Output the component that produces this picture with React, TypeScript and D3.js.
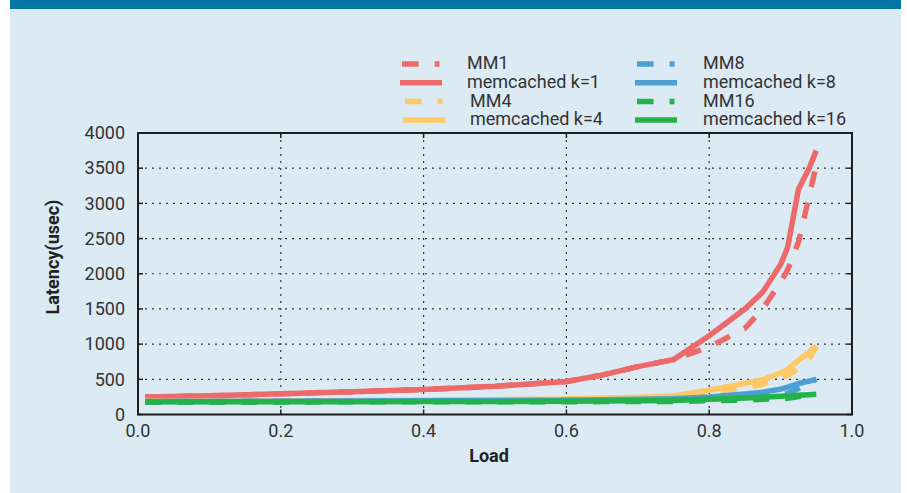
import React from "react";
import * as d3 from "d3";

// load values shared by all series
const loads = [0.01, 0.1, 0.2, 0.3, 0.4, 0.5, 0.6, 0.65, 0.7, 0.75, 0.8, 0.85, 0.875, 0.9, 0.91, 0.925, 0.94, 0.95];

const mm1 = [250, 265, 295, 325, 355, 400, 470, 560, 680, 780, 960, 1225, 1500, 1880, 2060, 2450, 3100, 3550];
const memK1 = [250, 265, 295, 325, 355, 400, 470, 560, 680, 780, 1120, 1500, 1740, 2130, 2380, 3200, 3500, 3750];
const mm4 = [185, 188, 190, 195, 198, 205, 212, 220, 235, 255, 310, 370, 430, 520, 560, 650, 790, 960];
const memK4 = [188, 190, 193, 198, 203, 210, 220, 230, 245, 265, 345, 445, 495, 590, 645, 765, 890, 975];
const mm8 = [182, 185, 187, 190, 192, 195, 200, 205, 210, 215, 235, 255, 270, 290, 300, 370, 450, 500];
const memK8 = [184, 186, 188, 191, 194, 198, 203, 210, 218, 225, 250, 290, 315, 360, 390, 440, 475, 500];
const mm16 = [178, 178, 179, 180, 180, 181, 182, 183, 184, 185, 195, 205, 215, 225, 230, 255, 275, 285];
const memK16 = [180, 180, 181, 182, 183, 185, 190, 193, 196, 200, 215, 235, 245, 260, 265, 275, 282, 287];

const seriesNames = ["MM1", "memcached k=1", "MM4", "memcached k=4", "MM8", "memcached k=8", "MM16", "memcached k=16"];
const seriesValues = [mm1, memK1, mm4, memK4, mm8, memK8, mm16, memK16];
const seriesColors = ["#ec6a6a", "#ec6a6a", "#fec866", "#fec866", "#4b9fd3", "#4b9fd3", "#23b24b", "#23b24b"];

const xTicks = [0, 0.2, 0.4, 0.6, 0.8, 1.0];
const yTicks = [0, 500, 1000, 1500, 2000, 2500, 3000, 3500, 4000];

const W = 907;
const H = 493;
const m = { left: 138, right: 852, top: 133, bottom: 414.5 };
const font = "Roboto, 'Noto Sans', sans-serif";

export default function App() {
  const x = d3.scaleLinear().domain([0, 1]).range([m.left, m.right]);
  const y = d3.scaleLinear().domain([0, 4000]).range([m.bottom, m.top]);

  const line = d3
    .line<number>()
    .x((_, i) => x(loads[i]))
    .y((d) => y(d));

  const dashed = (i: number) => i % 2 === 0;

  return (
    <div style={{ position: "absolute", left: 0, top: 0 }}>
      <svg width={W} height={H} style={{ display: "block", fontFamily: font }}>
        <rect x={0} y={0} width={W} height={H} fill="#ffffff" />
        <rect x={10} y={9} width={891} height={H - 9} fill="#dbeaf3" />
        <rect x={10} y={0} width={891} height={9} fill="#0077a6" />

        {/* grid */}
        {yTicks.slice(1, -1).map((t) => (
          <line key={"gy" + t} x1={m.left} x2={m.right} y1={y(t)} y2={y(t)}
            stroke="#333" strokeWidth={1.2} strokeDasharray="2,5" />
        ))}
        {xTicks.slice(1, -1).map((t) => (
          <line key={"gx" + t} x1={x(t)} x2={x(t)} y1={m.top} y2={m.bottom}
            stroke="#333" strokeWidth={1.2} strokeDasharray="2,5" />
        ))}

        {/* series */}
        <g fill="none" strokeLinejoin="round">
          {seriesValues.map((vals, i) => (
            <path key={seriesNames[i]} d={line(vals) || ""} stroke={seriesColors[i]}
              strokeWidth={5.5} strokeDasharray={dashed(i) ? "16,16" : undefined} />
          ))}
        </g>

        {/* tick marks */}
        {yTicks.map((t) => (
          <g key={"ty" + t} stroke="#222" strokeWidth={1.5}>
            <line x1={m.left} x2={m.left + 5} y1={y(t)} y2={y(t)} />
            <line x1={m.right - 5} x2={m.right} y1={y(t)} y2={y(t)} />
          </g>
        ))}
        {xTicks.map((t) => (
          <g key={"tx" + t} stroke="#222" strokeWidth={1.5}>
            <line x1={x(t)} x2={x(t)} y1={m.bottom} y2={m.bottom - 5} />
            <line x1={x(t)} x2={x(t)} y1={m.top} y2={m.top + 5} />
          </g>
        ))}

        {/* frame */}
        <rect x={m.left} y={m.top} width={m.right - m.left} height={m.bottom - m.top}
          fill="none" stroke="#1e1e1e" strokeWidth={2} />

        {/* tick labels */}
        <g fontSize={18} fill="#333">
          {yTicks.map((t) => (
            <text key={"ly" + t} x={125} y={y(t)} dy="0.35em" textAnchor="end">{t}</text>
          ))}
          {xTicks.map((t) => (
            <text key={"lx" + t} x={x(t)} y={437} textAnchor="middle">{t.toFixed(1)}</text>
          ))}
        </g>

        {/* axis titles */}
        <text x={x(0.5) - 6} y={462} textAnchor="middle" fontSize={18} fontWeight="bold" fill="#222">Load</text>
        <text transform={`translate(59,257) rotate(-90)`} textAnchor="middle" fontSize={18}
          fontWeight="bold" fill="#222">Latency(usec)</text>

        {/* legend */}
        <g fontSize={18} fill="#333">
          {seriesNames.map((name, i) => {
            const col = i < 4 ? 0 : 1;
            const row = i % 4;
            const shift = col === 0 && row >= 2 ? 3 : 0;
            const lx = (col === 0 ? 400 : 635) + shift;
            const tx = (col === 0 ? 467 : 703) + shift;
            const ly = 64 + row * 18.7;
            return (
              <g key={"lg" + name}>
                {dashed(i) ? (
                  <line x1={lx + 2} x2={lx + 39.5} y1={ly} y2={ly} stroke={seriesColors[i]}
                    strokeWidth={5.5} strokeDasharray="16.6,16" />
                ) : (
                  <line x1={lx} x2={lx + 42} y1={ly} y2={ly} stroke={seriesColors[i]} strokeWidth={5.5} />
                )}
                <text x={tx} y={ly - 1} dy="0.35em">{name}</text>
              </g>
            );
          })}
        </g>
      </svg>
    </div>
  );
}
